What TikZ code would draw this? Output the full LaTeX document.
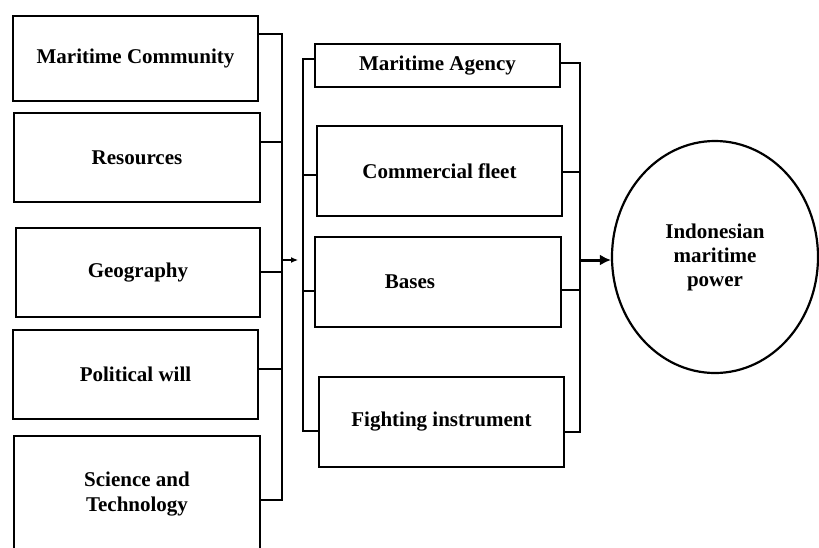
\documentclass[tikz,border=0pt]{standalone}
\usepackage{fontspec}
\setmainfont{Liberation Serif}
\usetikzlibrary{shapes.geometric,arrows.meta}
\begin{document}
\begin{tikzpicture}[x=1pt,y=-1pt,
  factor/.style={draw,line width=2.8pt,inner sep=0pt,align=center,
    font=\fontsize{21}{25}\selectfont\bfseries},
  bus/.style={line width=2.8pt,line join=miter},
  goal/.style={draw,ellipse,line width=2.2pt,inner sep=0pt,align=center,
    minimum width=206pt,minimum height=232pt,
    font=\fontsize{21}{24}\selectfont\bfseries}]
\useasboundingbox (0,0) rectangle (819,547);
\clip (0,0) rectangle (819,547);

% basic factors
\node[factor,minimum width=245pt,minimum height=85pt] (mc)  at (135.5,58.5) {Maritime Community};
\node[factor,minimum width=246pt,minimum height=89pt] (res) at (137,157.5) {Resources};
\node[factor,minimum width=244pt,minimum height=89pt] (geo) at (138,272.5) {Geography};
\node[factor,minimum width=245pt,minimum height=89pt] (pol) at (135.5,374.5) {Political will};
\node[factor,minimum width=246pt,minimum height=116pt] (sci) at (137,494) {Science and\\Technology};

% elements of sea power
\node[factor,minimum width=245pt,minimum height=43pt] (ma)  at (437.5,65.5) {Maritime Agency};
\node[factor,minimum width=245pt,minimum height=90pt] (cf)  at (439.5,171) {Commercial fleet};
\node[factor,minimum width=246pt,minimum height=90pt] (bas) at (438,282) {Bases\hspace{56pt}};
\node[factor,minimum width=245pt,minimum height=90pt] (fi)  at (441.5,422) {Fighting instrument};

% result
\node[goal] (ip) at (715,257) {Indonesian\\maritime\\power};

% left bus
\coordinate (la) at (282,34);
\coordinate (lb) at (282,142);
\coordinate (lc) at (282,272);
\coordinate (ld) at (282,369);
\coordinate (le) at (282,500);
\draw[bus] (mc.east |- la) -- (la) -- (le) -- (sci.east |- le);
\draw[bus] (res.east |- lb) -- (lb);
\draw[bus] (geo.east |- lc) -- (lc);
\draw[bus] (pol.east |- ld) -- (ld);

% middle bus
\coordinate (ma1) at (303,59);
\coordinate (mb1) at (303,175);
\coordinate (mc1) at (303,291);
\coordinate (md1) at (303,431);
\draw[bus] (ma.west |- ma1) -- (ma1) -- (md1) -- (fi.west |- md1);
\draw[bus] (mb1) -- (cf.west |- mb1);
\draw[bus] (mc1) -- (bas.west |- mc1);

% right bus
\coordinate (ra) at (580,63);
\coordinate (rb) at (580,172);
\coordinate (rc) at (580,290);
\coordinate (rd) at (580,432);
\draw[bus] (ma.east |- ra) -- (ra) -- (rd) -- (fi.east |- rd);
\draw[bus] (cf.east |- rb) -- (rb);
\draw[bus] (bas.east |- rc) -- (rc);

% arrows
\coordinate (lar) at (282,260);
\coordinate (lat) at (298,260);
\draw[line width=1.2pt,-{Latex[length=7pt,width=6pt]}] (lar) -- (lat);
\coordinate (rar) at (580,260);
\draw[line width=3pt,-{Latex[length=11pt,width=11pt]}] (rar) -- (rar -| ip.west);
\end{tikzpicture}
\end{document}
